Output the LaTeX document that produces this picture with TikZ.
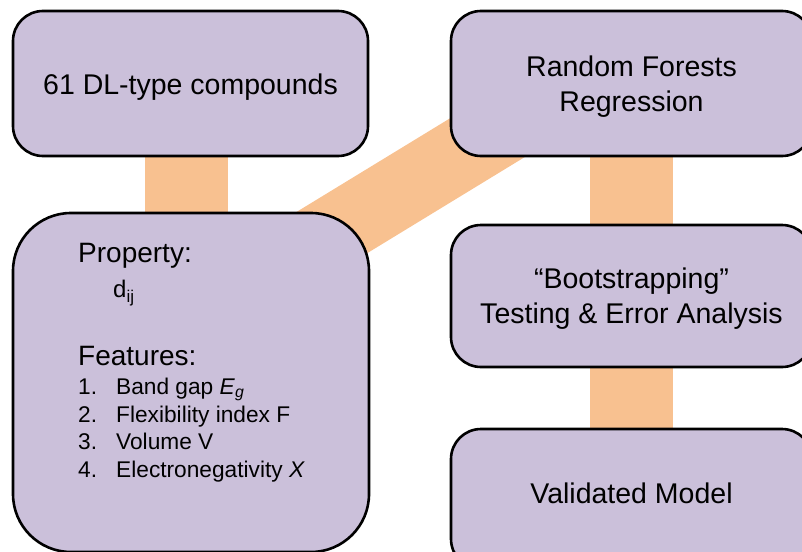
\documentclass[tikz,border=0pt]{standalone}
\usepackage{fontspec}
\setmainfont{Liberation Sans}
\usetikzlibrary{calc}
\pgfdeclarelayer{bands}
\pgfsetlayers{bands,main}
\definecolor{boxfill}{RGB}{203,192,218}
\definecolor{bandfill}{RGB}{248,193,144}
\tikzset{
  stagebox/.style={draw=black, line width=2.6pt, fill=boxfill, rounded corners=30pt,
                   inner sep=0pt, outer sep=0pt},
  bigbox/.style={stagebox, rounded corners=58pt},
  band/.style={draw=bandfill, line cap=butt},
  title/.style={anchor=base, inner sep=0pt, font=\fontsize{28.5}{34}\selectfont},
  head/.style={anchor=base west, inner sep=0pt, font=\fontsize{28}{34}\selectfont},
  item/.style={anchor=base west, inner sep=0pt, font=\fontsize{22.7}{27}\selectfont},
}
% lowered subscript in a fixed size
\newcommand{\lowsub}[1]{\raisebox{-5.5pt}{\fontsize{17}{17}\selectfont #1}}
\begin{document}
\begin{tikzpicture}[x=1pt, y=-1pt]
  \clip (0,0) rectangle (802,551);

  % stage boxes
  \node[stagebox, minimum width=355pt, minimum height=145pt] (cmp)  at (190.5,83.5) {};
  \node[stagebox, minimum width=361pt, minimum height=145pt] (rf)   at (631.5,83.5) {};
  \node[bigbox,   minimum width=356pt, minimum height=339pt] (feat) at (191,382.5) {};
  \node[stagebox, minimum width=361pt, minimum height=142pt] (boot) at (631.5,296) {};
  \node[stagebox, minimum width=361pt, minimum height=140pt] (val)  at (631.5,499) {};

  % wide bands joining the stages, drawn underneath the boxes
  \coordinate (diagA) at ($(feat.center)+(0,-64)$);
  \coordinate (diagB) at ($(rf.center)+(-4.5,-31)$);
  \begin{pgfonlayer}{bands}
    \draw[band, line width=83pt] ([xshift=-4pt]cmp.south) -- ([xshift=-4pt]cmp.south |- feat.north);
    \draw[band, line width=72pt] (diagA) -- (diagB);
    \draw[band, line width=83pt] (rf.south) -- (boot.north);
    \draw[band, line width=83pt] (boot.south) -- (val.north);
  \end{pgfonlayer}

  % box titles
  \node[title] (cmptxt)   at (190.5,94)  {61 DL-type compounds};
  \node[title] (rftxtA)   at (631.5,76)  {Random Forests};
  \node[title] (rftxtB)   at (631.5,111) {Regression};
  \node[title] (boottxtA) at (631.5,288) {“Bootstrapping”};
  \node[title] (boottxtB) at (631.5,323) {Testing \& Error Analysis};
  \node[title] (valtxt)   at (631.5,503) {Validated Model};

  % property and feature list
  \node[head] (prop)  at (78,262) {Property:};
  \node[item, font=\fontsize{24}{28}\selectfont] (dij) at (113,297) {d\lowsub{ij}};
  \node[head] (feats) at (78,365) {Features:};
  \node[item] (n1) at (78,394) {1.};
  \node[item] (n2) at (78,422) {2.};
  \node[item] (n3) at (78,449) {3.};
  \node[item] (n4) at (78,477) {4.};
  \node[item] (f1) at (116,394) {Band gap \textit{E}\textsubscript{\textit{g}}};
  \node[item] (f2) at (116,422) {Flexibility index F};
  \node[item] (f3) at (116,449) {Volume V};
  \node[item] (f4) at (116,477) {Electronegativity \textit{X}};
\end{tikzpicture}
\end{document}
